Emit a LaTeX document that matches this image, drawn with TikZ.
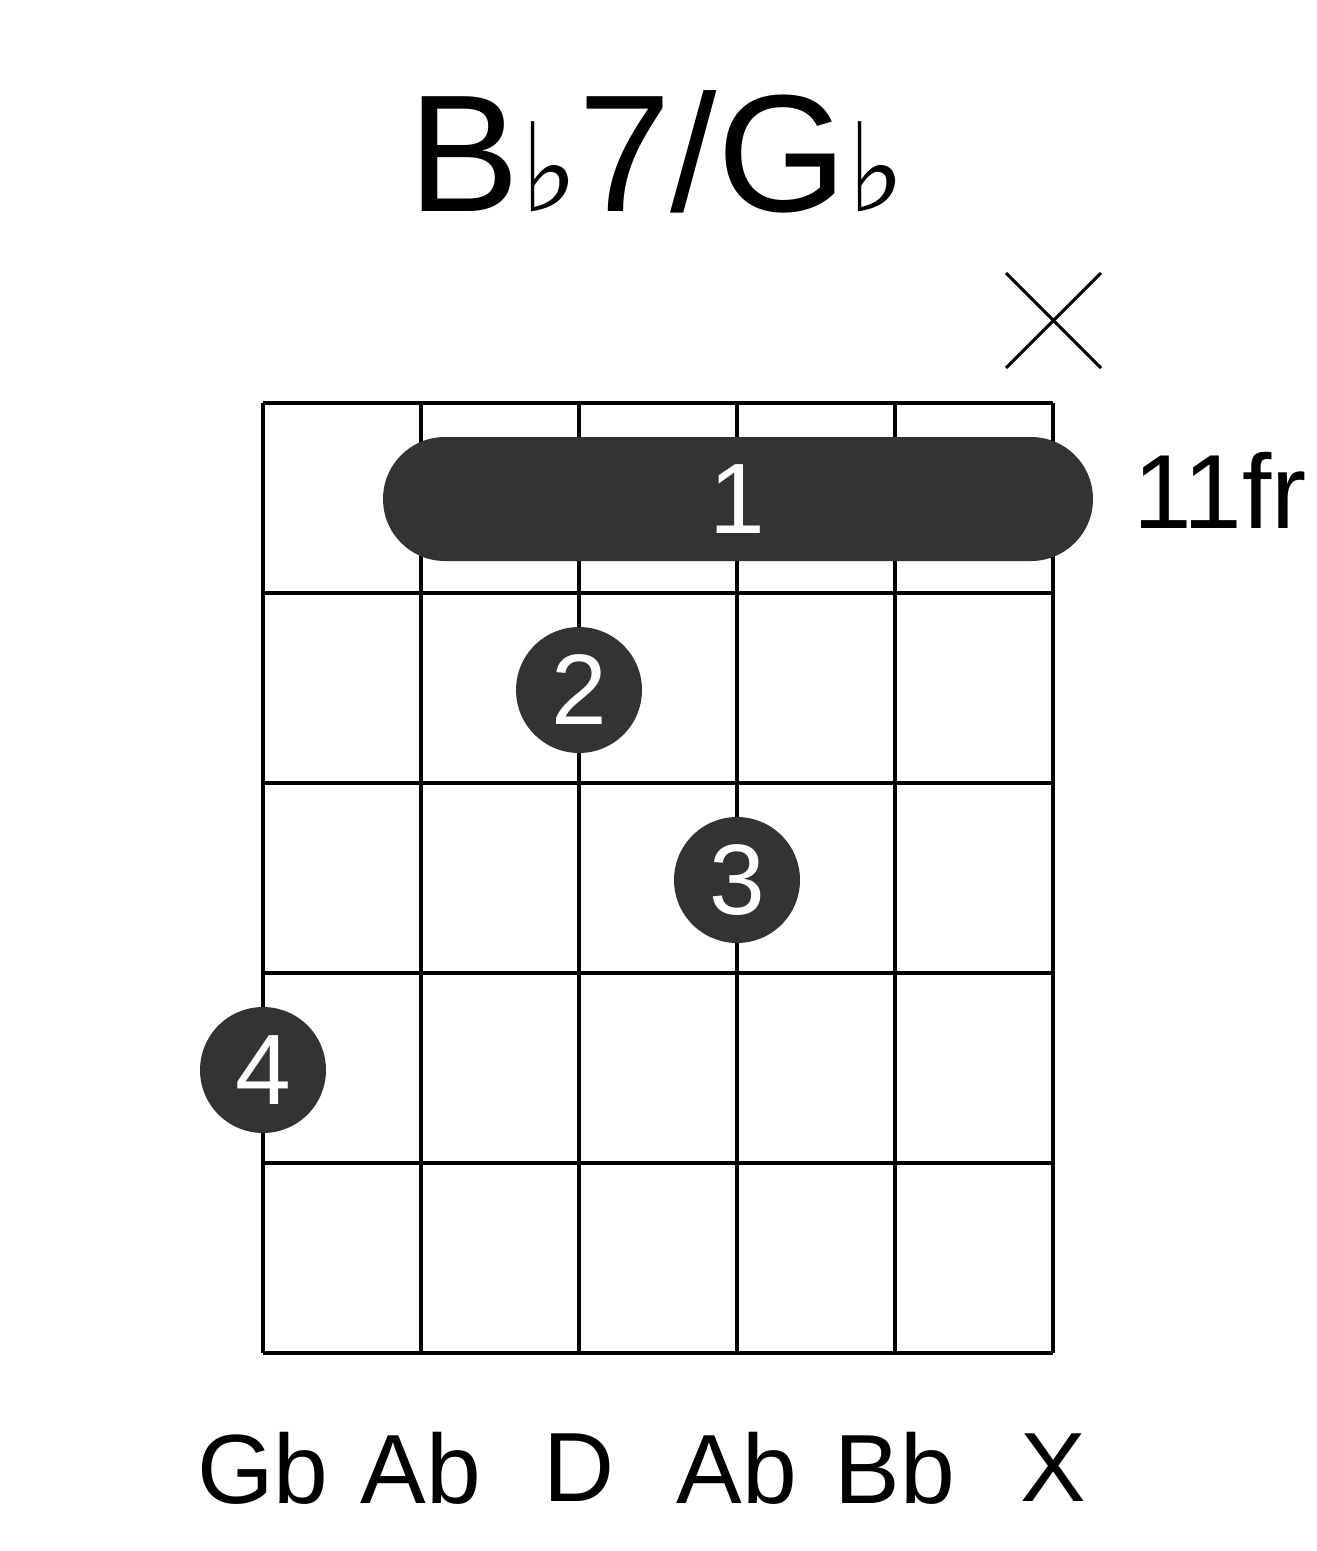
\documentclass[tikz,border=0pt]{standalone}
\usepackage{fontspec}
\setmainfont{Liberation Sans}
\newfontfamily\symfont{DejaVu Sans}
\usetikzlibrary{positioning}
\definecolor{dotgray}{HTML}{333333}
\tikzset{
  finger/.style={circle, fill=dotgray, minimum size=2.52cm, inner sep=0pt,
    text=white, font=\fontsize{57}{60}\selectfont},
  notename/.style={font=\fontsize{56}{60}\selectfont},
  gridline/.style={line width=0.08cm}
}
\begin{document}
\begin{tikzpicture}[x=0.02cm, y=-0.02cm]
\useasboundingbox (0,0) rectangle (1317,1551);

% title
\node (title) at (657,152) {\fontsize{95}{100}\selectfont B{\symfont\fontsize{70}{70}\selectfont ♭}7/G{\symfont\fontsize{70}{70}\selectfont ♭}};

% strings and frets
\foreach \s in {0,...,5}
  \draw[gridline] (263+158*\s,403) -- (263+158*\s,1353);
\foreach \f in {0,...,5}
  \draw[gridline] (263,403+190*\f) -- (1053,403+190*\f);

% muted string
\draw[line width=0.06cm] (1006,273) -- (1101,368);
\draw[line width=0.06cm] (1101,273) -- (1006,368);

% barre
\fill[dotgray, rounded corners=1.24cm] (383,437) rectangle (1093,561);
\node[text=white, font=\fontsize{57}{60}\selectfont] (barre) at (737,499) {1};
\node[font=\fontsize{60}{64}\selectfont] (fret) at (1220,490) {11fr};

% fingers
\node[finger] (f2) at (579,690) {2};
\node[finger] (f3) at (737,880) {3};
\node[finger] (f4) at (263,1070) {4};

% note names
\foreach \n [count=\i from 0] in {Gb,Ab,D,Ab,Bb,X}
  \node[notename] (n\i) at (263+158*\i,1468) {\n};
\end{tikzpicture}
\end{document}
